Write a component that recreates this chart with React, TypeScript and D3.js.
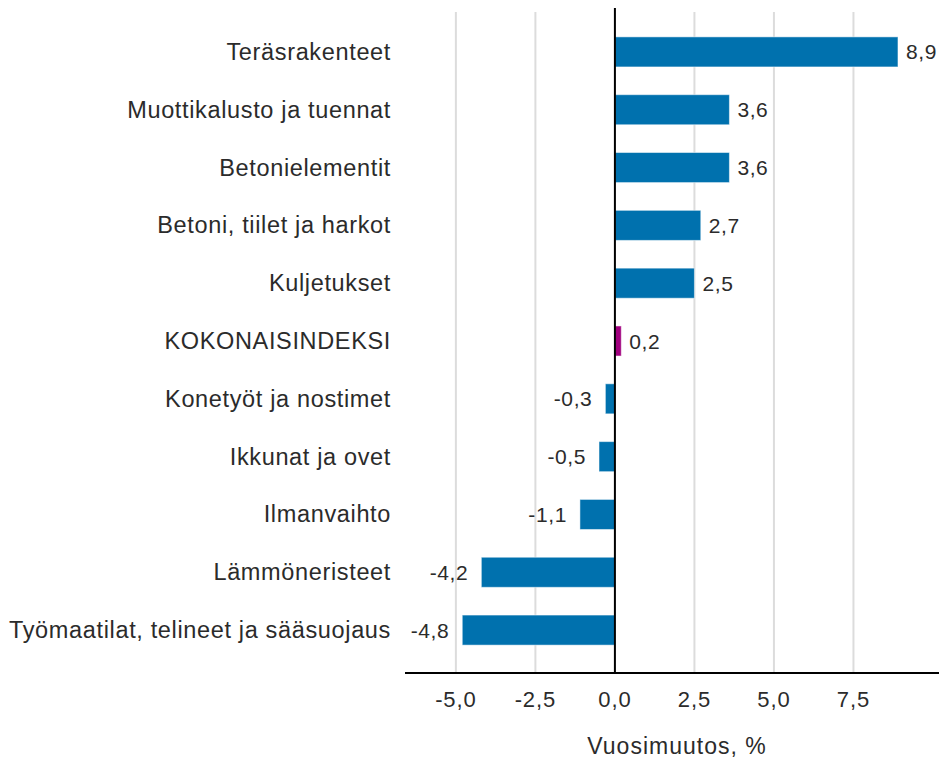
import { useMemo } from 'react'
import * as d3 from 'd3'

const categories = [
  'Teräsrakenteet',
  'Muottikalusto ja tuennat',
  'Betonielementit',
  'Betoni, tiilet ja harkot',
  'Kuljetukset',
  'KOKONAISINDEKSI',
  'Konetyöt ja nostimet',
  'Ikkunat ja ovet',
  'Ilmanvaihto',
  'Lämmöneristeet',
  'Työmaatilat, telineet ja sääsuojaus',
]
const values = [8.9, 3.6, 3.6, 2.7, 2.5, 0.2, -0.3, -0.5, -1.1, -4.2, -4.8]
const highlight = 'KOKONAISINDEKSI'
const ticks = [-5, -2.5, 0, 2.5, 5, 7.5]
const axisTitle = 'Vuosimuutos, %'

const W = 939
const H = 758
const FONT = '"Liberation Sans", Arial, sans-serif'
const TEXT = '#2b2b2b'

const fmt = (v: number, digits = 1) => v.toFixed(digits).replace('.', ',')

export default function App() {
  const { x, y } = useMemo(() => {
    const x = d3.scaleLinear().domain([-6.6, 10.19]).range([405, 939])
    const y = d3
      .scaleBand<string>()
      .domain(categories)
      .range([23, 659])
      .paddingInner(0.48)
      .paddingOuter(0.24)
    return { x, y }
  }, [])

  const x0 = x(0)
  const axisY = 673

  return (
    <svg
      width={W}
      height={H}
      style={{ position: 'absolute', left: 0, top: 0, background: '#fff' }}
      fontFamily={FONT}
    >
      {/* gridlines */}
      {ticks
        .filter((t) => t !== 0)
        .map((t) => (
          <line key={t} x1={x(t)} x2={x(t)} y1={12} y2={axisY} stroke="#dcdcdc" strokeWidth={2} />
        ))}

      {/* bars */}
      {categories.map((c, i) => {
        const v = values[i]
        const yy = y(c) ?? 0
        const bw = y.bandwidth()
        const left = Math.min(x(v), x0)
        const w = Math.abs(x(v) - x0)
        const cy = yy + bw / 2
        return (
          <g key={c}>
            <rect
              x={left}
              y={yy}
              width={w}
              height={bw}
              fill={c === highlight ? '#a0007e' : '#0071ae'}
              stroke="#ffffff"
              strokeOpacity={0.5}
              strokeWidth={1}
            />
            <text
              x={391}
              y={cy}
              textAnchor="end"
              dominantBaseline="central"
              fontSize={23.5}
              letterSpacing={0.65}
              fill={TEXT}
            >
              {c}
            </text>
            <text
              x={v >= 0 ? x(v) + 8 : x(v) - 13}
              y={cy}
              textAnchor={v >= 0 ? 'start' : 'end'}
              dominantBaseline="central"
              fontSize={21}
              letterSpacing={0.6}
              fill={TEXT}
            >
              {fmt(v)}
            </text>
          </g>
        )
      })}

      {/* zero line */}
      <line x1={x0} x2={x0} y1={8} y2={axisY} stroke="#000" strokeWidth={2} />
      {/* axis line */}
      <line x1={405} x2={939} y1={axisY} y2={axisY} stroke="#000" strokeWidth={2} />

      {/* tick labels */}
      {ticks.map((t) => (
        <text
          key={t}
          x={x(t)}
          y={699}
          textAnchor="middle"
          dominantBaseline="central"
          fontSize={22}
          letterSpacing={0.9}
          fill={TEXT}
        >
          {fmt(t)}
        </text>
      ))}

      <text
        x={677}
        y={746}
        textAnchor="middle"
        dominantBaseline="central"
        fontSize={23}
        letterSpacing={1}
        fill={TEXT}
      >
        {axisTitle}
      </text>
    </svg>
  )
}
